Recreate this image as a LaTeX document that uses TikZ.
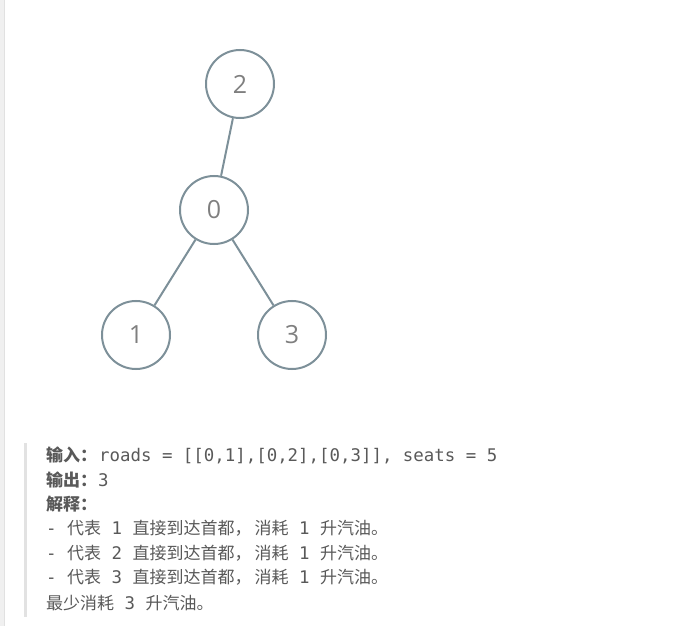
\documentclass[tikz,border=0pt]{standalone}
\usepackage{fontspec}
\setmainfont{Open Sans}
\newfontfamily\cjk{Noto Sans CJK SC}
\newfontfamily\mono{DejaVu Sans Mono}
\definecolor{edgec}{HTML}{7D9099}
\definecolor{numc}{HTML}{7F7F7F}
\definecolor{txtc}{HTML}{595959}
\definecolor{stripc}{HTML}{F0F0F0}
\definecolor{barc}{HTML}{E2E2E2}
\newcommand{\zh}[1]{{\cjk\fontsize{17}{20}\selectfont #1}}
\newcommand{\mo}[1]{{\mono\fontsize{17.4}{20}\selectfont #1}}
\begin{document}
\begin{tikzpicture}[x=1pt, y=-1pt, vtx/.style={circle,draw=edgec,line width=2pt,minimum size=68pt,inner sep=0pt,text=numc,font=\fontsize{25}{25}\selectfont}, edge/.style={draw=edgec,line width=2pt}, txt/.style={anchor=west,inner sep=0pt,text=txtc}]

\useasboundingbox (0,0) rectangle (697,626);
\fill[stripc] (0,0) rectangle (4,626);
\draw[barc!80!black!40!white, line width=0.8pt] (4.4,0) -- (4.4,626);
\fill[barc] (24,443) rectangle (27,617);

\node[vtx] (n2) at (240,84) {2};
\node[vtx] (n0) at (214,210) {0};
\node[vtx] (n1) at (136,335) {1};
\node[vtx] (n3) at (292,335) {3};

\draw[edge] (n2) -- (n0);
\draw[edge] (n0) -- (n1);
\draw[edge] (n0) -- (n3);

\node[txt] (in) at (46,455) {\zh{\bfseries 输入：}\hspace{2pt}\mo{roads = [[0,1],[0,2],[0,3]], seats = 5}};
\node[txt] (out) at (46,480) {\zh{\bfseries 输出：}\hspace{1pt}\mo{3}};
\node[txt] (expl) at (46,504) {\zh{\bfseries 解释：}};
\foreach \k/\yy in {1/528,2/553,3/577}
  \node[txt] (road\k) at (46,\yy) {\mo{-\ }\zh{代表}\mo{\ \k\ }\zh{直接到达首都，\hspace{3pt}消耗}\mo{\ 1\ }\zh{升汽油。}};
\node[txt] (total) at (46,603) {\zh{最少消耗}\mo{\ 3\ }\zh{升汽油。}};

\end{tikzpicture}
\end{document}
